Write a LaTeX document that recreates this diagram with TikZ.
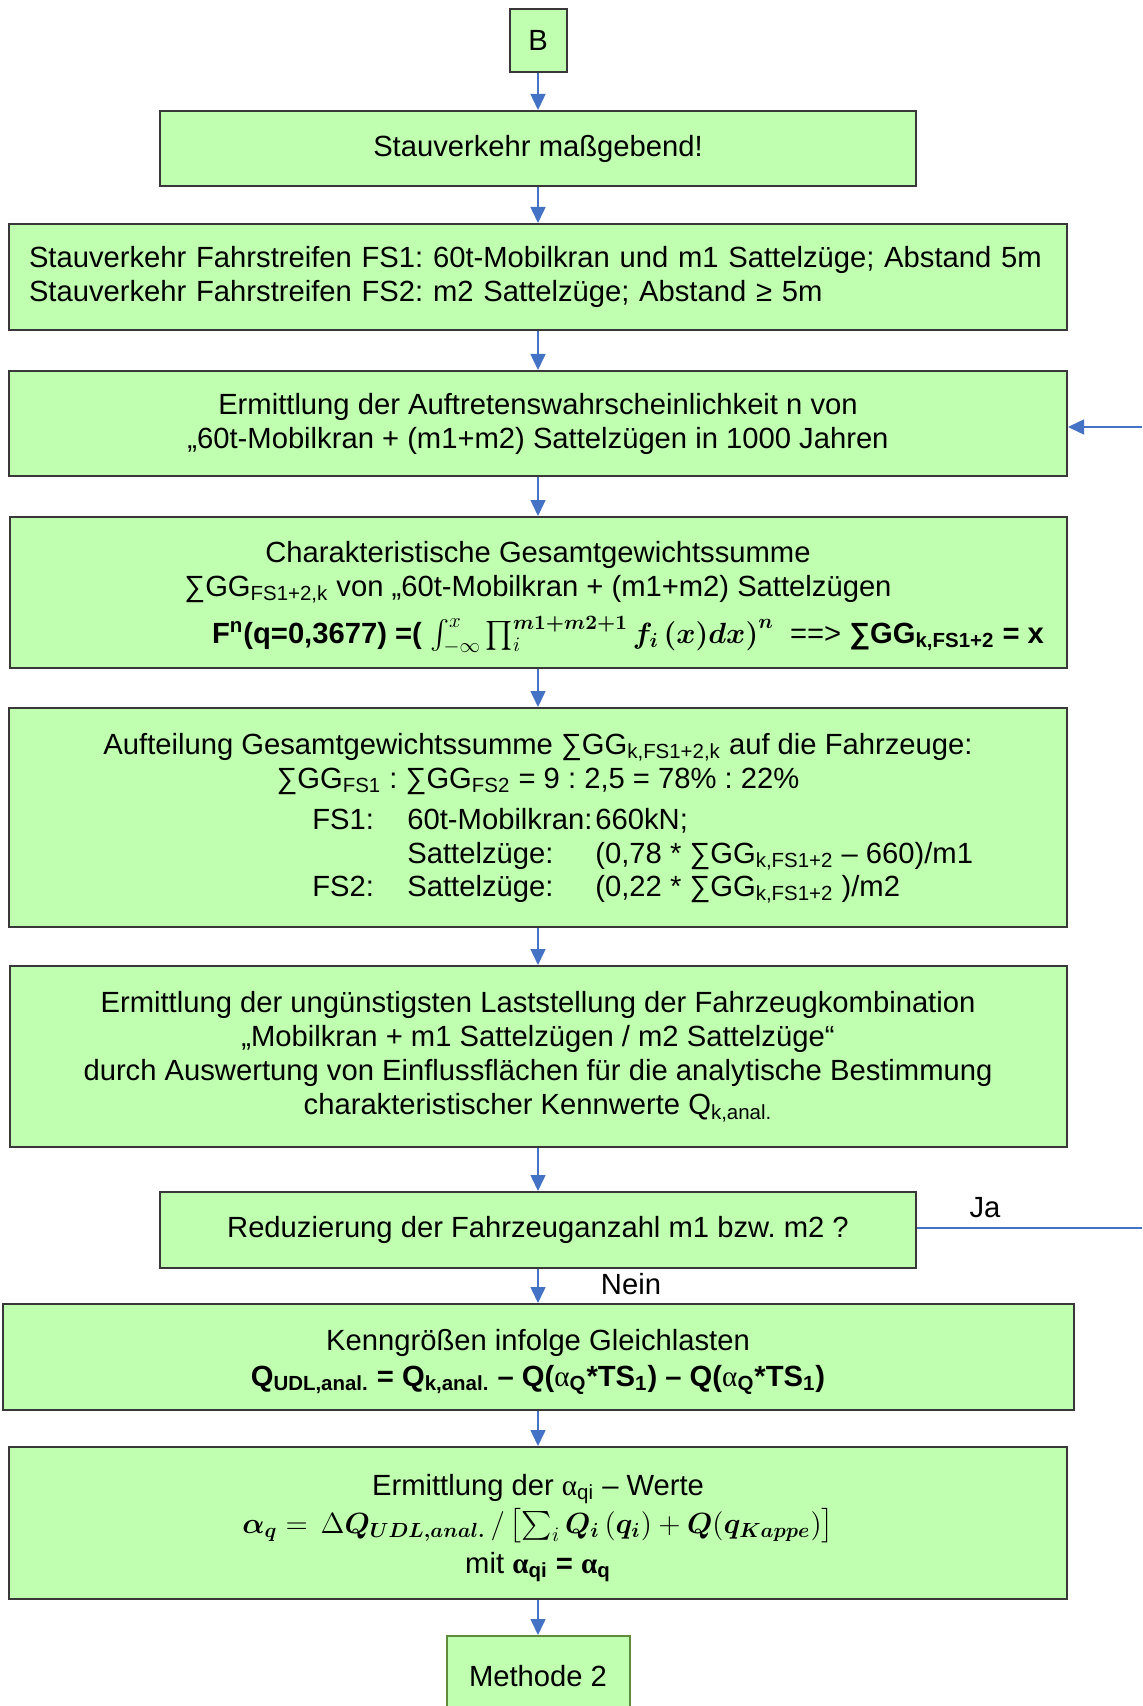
\RequirePackage{fix-cm}
\documentclass[tikz,border=0pt]{standalone}
\usepackage{amsmath,bm}
\usepackage{fontspec}
\setmainfont{Liberation Sans}
\newfontfamily\greekserif{Liberation Serif}
\usetikzlibrary{arrows.meta}

\definecolor{boxfill}{HTML}{C0FFB0}
\definecolor{boxline}{HTML}{383838}
\definecolor{flow}{HTML}{4472C4}
\definecolor{endline}{HTML}{5E8C3C}

\begin{document}
\frenchspacing
\begin{tikzpicture}[x=0.5pt, y=-0.5pt,
  every node/.style={font=\fontsize{14.6}{17}\selectfont, inner sep=0pt},
  box/.style={draw=boxline, line width=1pt, fill=boxfill, align=center},
  line/.style={anchor=base},
  col/.style={anchor=base west},
  flowline/.style={draw=flow, line width=0.75pt},
  flowarrow/.style={flowline, -{Triangle[width=7.5pt,length=8pt]}}
]
\useasboundingbox (0,0) rectangle (1142,1706);
\clip (0,0) rectangle (1142,1706);

% ---------- boxes ----------
\node[box, minimum width=28.5pt, minimum height=31.5pt] (start) at (538,40.5) {B};
\node[box, minimum width=378pt, minimum height=37.5pt] (stau) at (538,148.5) {Stauverkehr maßgebend!};
\node[box, minimum width=529pt, minimum height=53pt, text width=509pt, align=left] (lanes) at (538,277)
  {Stauverkehr Fahrstreifen FS1: 60t-Mobilkran und m1 Sattelzüge; Abstand 5m\\
   Stauverkehr Fahrstreifen FS2: m2 Sattelzüge; Abstand ≥ 5m};
\node[box, minimum width=529pt, minimum height=52.5pt] (prob) at (538,423.5)
  {Ermittlung der Auftretenswahrscheinlichkeit n von\\
   „60t-Mobilkran + (m1+m2) Sattelzügen in 1000 Jahren};
\node[box, minimum width=528.5pt, minimum height=75.5pt] (charsum) at (538,592.5) {};
\node[box, minimum width=529pt, minimum height=109.5pt] (split) at (538,817.5) {};
\node[box, minimum width=528.5pt, minimum height=90.5pt] (worst) at (538,1056.5)
  {Ermittlung der ungünstigsten Laststellung der Fahrzeugkombination\\
   „Mobilkran + m1 Sattelzügen / m2 Sattelzüge“\\
   durch Auswertung von Einflussflächen für die analytische Bestimmung\\
   charakteristischer Kennwerte Q\textsubscript{k,anal.}};
\node[box, minimum width=378pt, minimum height=38pt] (reduce) at (538,1230)
  {Reduzierung der Fahrzeuganzahl m1 bzw. m2 ?};
\node[box, minimum width=535.5pt, minimum height=53pt] (udl) at (538,1357) {};
\node[box, minimum width=529pt, minimum height=76pt] (alpha) at (538,1523) {};
\node[box, draw=endline, minimum width=91.5pt, minimum height=40pt] (method) at (538,1676) {Methode 2};

% ---------- text of the characteristic sum ----------
\node[line] (charsumA) at (538,562) {Charakteristische Gesamtgewichtssumme};
\node[line] (charsumB) at (538,596) {∑GG\textsubscript{FS1+2,k} von „60t-Mobilkran + (m1+m2) Sattelzügen};
\node[line] (charsumC) at (628,643)
  {{\bfseries F\textsuperscript{n}(q=0,3677) =(} $\int_{-\infty}^{x}\prod_{i}^{\bm{m1+m2+1}}\bm{f_i\,(x)dx)^n}$\ \ ==> {\bfseries ∑GG\textsubscript{k,FS1+2} = x}};

% ---------- text of the split onto the vehicles ----------
\node[line] (splitA) at (538,754) {Aufteilung Gesamtgewichtssumme ∑GG\textsubscript{k,FS1+2,k} auf die Fahrzeuge:};
\node[line] (splitB) at (538,788) {∑GG\textsubscript{FS1} : ∑GG\textsubscript{FS2} = 9 : 2,5 = 78\% : 22\%};
\node[col] (fsone) at (312,829) {FS1:};
\node[col] (crane) at (407,829) {60t-Mobilkran:};
\node[col] (craneval) at (595,829) {660kN;};
\node[col] (trucksA) at (407,863) {Sattelzüge:};
\node[col] (trucksAval) at (595,863) {(0,78 * ∑GG\textsubscript{k,FS1+2} – 660)/m1};
\node[col] (fstwo) at (312,896) {FS2:};
\node[col] (trucksB) at (407,896) {Sattelzüge:};
\node[col] (trucksBval) at (595,896) {(0,22 * ∑GG\textsubscript{k,FS1+2} )/m2};

% ---------- text of the uniform loads ----------
\node[line] (udlA) at (538,1350) {Kenngrößen infolge Gleichlasten};
\node[line] (udlB) at (538,1386)
  {\bfseries Q\textsubscript{UDL,anal.} = Q\textsubscript{k,anal.} – Q({\mdseries\greekserif α}\textsubscript{Q}*TS\textsubscript{1}) – Q({\mdseries\greekserif α}\textsubscript{Q}*TS\textsubscript{1})};

% ---------- text of the alpha values ----------
\node[line] (alphaA) at (538,1495) {Ermittlung der {\greekserif α}\textsubscript{qi} – Werte};
\node[line] (alphaB) at (538,1533)
  {$\bm{\alpha_q} =\,\Delta\bm{Q_{UDL,anal.}}\,/\,\bigl[\sum_i\bm{Q_i}\,(\bm{q_i})+\bm{Q}(\bm{q}_{\bm{Kappe}})\bigr]$};
\node[line] (alphaC) at (538,1573) {mit {\bfseries\greekserif α}\textsubscript{\bfseries qi} \textbf{=} {\bfseries\greekserif α}\textsubscript{\bfseries q}};

% ---------- connectors ----------
\draw[flowarrow] (start.south) -- (start.south |- stau.north);
\draw[flowarrow] (stau.south) -- (stau.south |- lanes.north);
\draw[flowarrow] (lanes.south) -- (lanes.south |- prob.north);
\draw[flowarrow] (prob.south) -- (prob.south |- charsum.north);
\draw[flowarrow] (charsum.south) -- (charsum.south |- split.north);
\draw[flowarrow] (split.south) -- (split.south |- worst.north);
\draw[flowarrow] (worst.south) -- (worst.south |- reduce.north);
\draw[flowarrow] (reduce.south) -- (reduce.south |- udl.north);
\draw[flowarrow] (udl.south) -- (udl.south |- alpha.north);
\draw[flowarrow] (alpha.south) -- (alpha.south |- method.north);

\coordinate (loopin) at (1142,427);
\draw[flowarrow] (loopin) -- (loopin -| prob.east);
\coordinate (jaout) at (1142,1228);
\draw[flowline] (jaout -| reduce.east) -- (jaout);

\node[line] (ja) at (985,1217) {Ja};
\node[line] (nein) at (631,1294) {Nein};
\end{tikzpicture}
\end{document}
